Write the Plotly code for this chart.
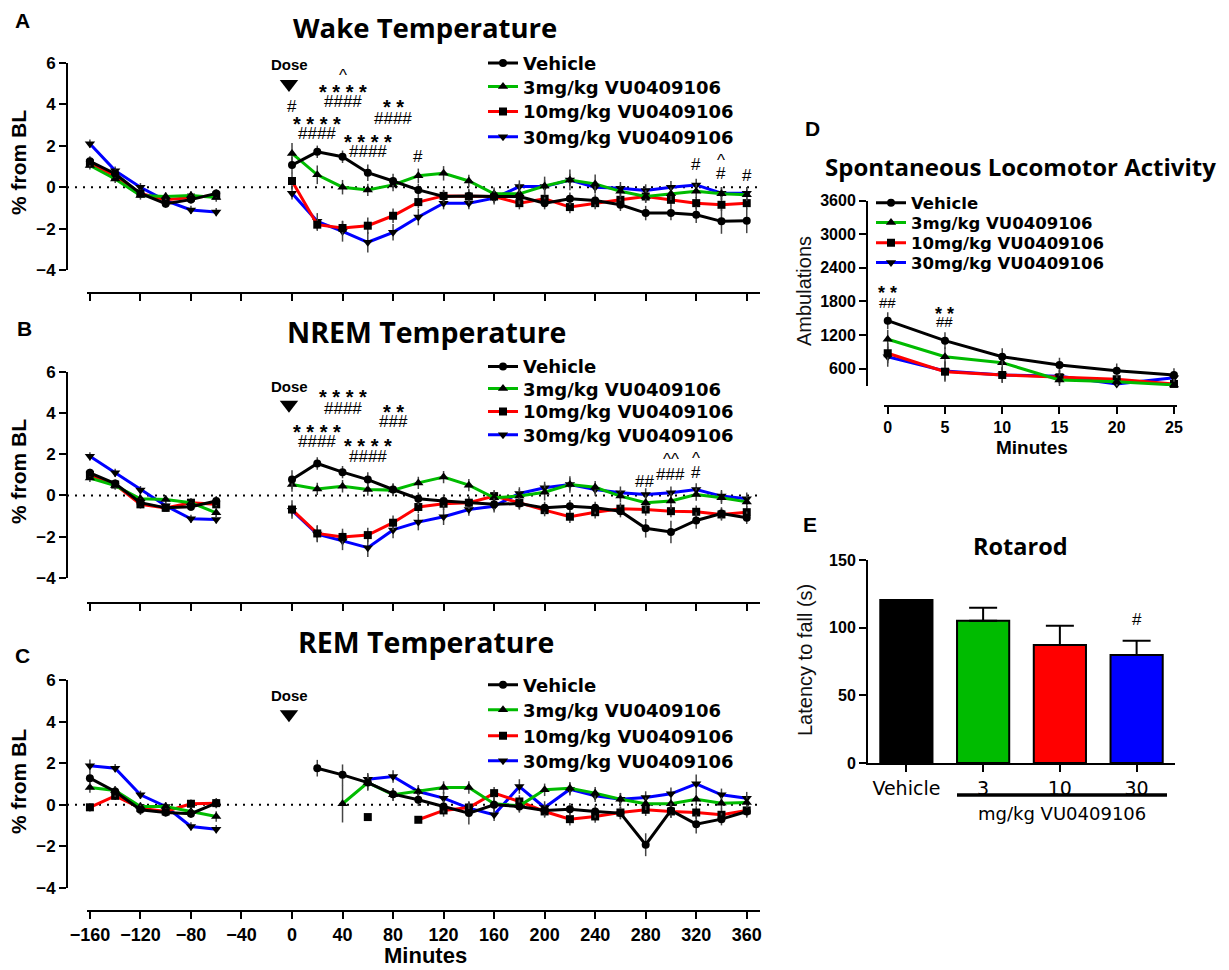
import plotly.graph_objects as go

# ---------------- data ----------------
minutes = [-160, -140, -120, -100, -80, -60, -40, -20, 0, 20, 40, 60, 80, 100, 120, 140,
           160, 180, 200, 220, 240, 260, 280, 300, 320, 340, 360]
series_names = ["Vehicle", "3mg/kg VU0409106", "10mg/kg VU0409106", "30mg/kg VU0409106"]

# Panel A - Wake temperature (% from BL)
veh_A = [1.25, 0.65, -0.30, -0.80, -0.60, -0.30, None, None, 1.07, 1.71, 1.47, 0.70, 0.30, -0.13, -0.45, -0.42,
         -0.45, -0.45, -0.77, -0.56, -0.64, -0.85, -1.25, -1.25, -1.33, -1.65, -1.62]
g3_A = [1.05, 0.40, -0.40, -0.45, -0.40, -0.50, None, None, 1.63, 0.60, 0.00, -0.13, 0.11, 0.55, 0.67, 0.30,
        -0.32, -0.32, 0.06, 0.35, 0.16, -0.20, -0.45, -0.32, -0.20, -0.32, -0.37]
g10_A = [1.15, 0.55, -0.30, -0.60, -0.50, -0.40, None, None, 0.30, -1.81, -1.97, -1.86, -1.38, -0.72, -0.42, -0.45,
         -0.45, -0.77, -0.56, -0.96, -0.77, -0.61, -0.45, -0.61, -0.77, -0.85, -0.77]
g30_A = [2.10, 0.80, 0.00, -0.65, -1.10, -1.20, None, None, -0.29, -1.65, -2.13, -2.66, -2.18, -1.44, -0.77, -0.77,
         -0.53, 0.03, 0.03, 0.35, 0.00, -0.05, -0.16, 0.00, 0.11, -0.29, -0.29]
veh_A_sem = [0.25, 0.20, 0.20, 0.20, 0.20, 0.20, None, None, 0.40, 0.30, 0.30, 0.40, 0.35, 0.30, 0.30, 0.35,
             0.30, 0.30, 0.30, 0.30, 0.30, 0.30, 0.35, 0.35, 0.40, 0.60, 0.60]
g3_A_sem = [0.20, 0.20, 0.20, 0.20, 0.20, 0.20, None, None, 0.50, 0.45, 0.35, 0.30, 0.30, 0.35, 0.35, 0.30,
            0.30, 0.50, 0.45, 0.50, 0.45, 0.30, 0.30, 0.30, 0.35, 0.30, 0.30]
g10_A_sem = [0.20, 0.20, 0.20, 0.20, 0.20, 0.20, None, None, 0.40, 0.30, 0.35, 0.40, 0.35, 0.30, 0.30, 0.30,
             0.30, 0.30, 0.30, 0.30, 0.30, 0.30, 0.30, 0.30, 0.30, 0.30, 0.30]
g30_A_sem = [0.20, 0.20, 0.20, 0.20, 0.20, 0.20, None, None, 0.30, 0.40, 0.50, 0.50, 0.40, 0.40, 0.30, 0.30,
             0.30, 0.30, 0.30, 0.30, 0.30, 0.30, 0.30, 0.30, 0.30, 0.30, 0.30]

# Panel B - NREM temperature
veh_B = [1.10, 0.58, -0.35, -0.60, -0.55, -0.27, None, None, 0.77, 1.55, 1.13, 0.77, 0.29, -0.16, -0.27, -0.35,
         -0.43, -0.39, -0.60, -0.52, -0.60, -0.76, -1.59, -1.77, -1.21, -0.87, -1.08]
g3_B = [0.85, 0.48, -0.16, -0.19, -0.35, -0.84, None, None, 0.53, 0.32, 0.45, 0.29, 0.26, 0.61, 0.89, 0.50,
        -0.11, -0.03, 0.16, 0.53, 0.40, -0.03, -0.35, -0.27, 0.05, -0.11, -0.31]
g10_B = [1.00, 0.53, -0.43, -0.60, -0.35, -0.43, None, None, -0.68, -1.84, -2.01, -1.92, -1.32, -0.56, -0.40, -0.35,
         -0.03, -0.35, -0.71, -1.03, -0.81, -0.64, -0.68, -0.76, -0.79, -0.92, -0.81]
g30_B = [1.90, 1.10, 0.26, -0.50, -1.13, -1.16, None, None, -0.72, -1.87, -2.20, -2.53, -1.67, -1.29, -1.03, -0.68,
         -0.52, 0.10, 0.37, 0.53, 0.29, 0.13, 0.05, 0.13, 0.29, -0.03, -0.16]
veh_B_sem = [0.20, 0.20, 0.20, 0.20, 0.20, 0.25, None, None, 0.45, 0.30, 0.30, 0.35, 0.30, 0.30, 0.30, 0.30,
             0.30, 0.30, 0.30, 0.30, 0.30, 0.30, 0.45, 0.55, 0.40, 0.30, 0.30]
g3_B_sem = [0.20, 0.20, 0.20, 0.20, 0.20, 0.25, None, None, 0.35, 0.30, 0.30, 0.30, 0.30, 0.30, 0.30, 0.30,
            0.30, 0.35, 0.40, 0.40, 0.30, 0.30, 0.40, 0.40, 0.30, 0.30, 0.30]
g10_B_sem = [0.20, 0.20, 0.20, 0.20, 0.20, 0.20, None, None, 0.45, 0.40, 0.40, 0.35, 0.35, 0.30, 0.30, 0.30,
             0.30, 0.30, 0.30, 0.30, 0.30, 0.30, 0.30, 0.30, 0.30, 0.30, 0.30]
g30_B_sem = [0.20, 0.20, 0.20, 0.20, 0.20, 0.20, None, None, 0.30, 0.40, 0.45, 0.45, 0.40, 0.40, 0.40, 0.30,
             0.30, 0.30, 0.30, 0.30, 0.30, 0.30, 0.30, 0.30, 0.30, 0.30, 0.30]

# Panel C - REM temperature
veh_C = [1.28, 0.64, -0.24, -0.37, -0.43, 0.08, None, None, None, 1.76, 1.44, 1.07, 0.51, 0.24, -0.08, -0.40,
         0.00, -0.08, -0.27, -0.21, -0.32, -0.40, -1.92, -0.27, -0.93, -0.69, -0.32]
g3_C = [0.83, 0.69, -0.08, -0.08, -0.32, -0.56, None, None, None, None, 0.05, 1.07, 0.48, 0.64, 0.83, 0.83,
        0.05, -0.05, 0.72, 0.80, 0.56, 0.27, 0.05, 0.05, 0.27, 0.08, 0.11]
g10_C = [-0.12, 0.43, -0.16, -0.32, 0.05, 0.08, None, None, None, None, None, -0.59, None, -0.72, -0.27, -0.13,
         0.56, 0.16, -0.32, -0.69, -0.56, -0.37, -0.24, -0.32, -0.37, -0.48, -0.27]
g30_C = [1.88, 1.76, 0.48, -0.08, -1.04, -1.17, None, None, None, None, None, 1.23, 1.36, 0.64, 0.32, -0.16,
         -0.48, 0.88, -0.13, 0.75, 0.43, 0.27, 0.35, 0.53, 1.01, 0.48, 0.32]
veh_C_sem = [0.30, 0.25, 0.25, 0.20, 0.20, 0.25, None, None, None, 0.40, 0.50, 0.40, 0.30, 0.30, 0.30, 0.55,
             0.40, 0.30, 0.30, 0.30, 0.30, 0.30, 0.55, 0.35, 0.45, 0.30, 0.30]
g3_C_sem = [0.25, 0.20, 0.20, 0.20, 0.20, 0.25, None, None, None, None, 0.90, 0.35, 0.30, 0.30, 0.30, 0.30,
            0.30, 0.30, 0.30, 0.30, 0.30, 0.30, 0.30, 0.30, 0.30, 0.30, 0.30]
g10_C_sem = [0.20, 0.20, 0.20, 0.20, 0.20, 0.20, None, None, None, None, None, 0.10, None, 0.10, 0.30, 0.30,
             0.30, 0.30, 0.30, 0.30, 0.30, 0.30, 0.30, 0.30, 0.30, 0.30, 0.30]
g30_C_sem = [0.30, 0.20, 0.20, 0.20, 0.20, 0.20, None, None, None, None, None, 0.30, 0.30, 0.30, 0.30, 0.30,
             0.30, 0.35, 0.30, 0.30, 0.30, 0.30, 0.30, 0.30, 0.45, 0.30, 0.30]

# Panel D - Spontaneous locomotor activity
loco_minutes = [0, 5, 10, 15, 20, 25]
veh_D = [1457, 1100, 814, 666, 564, 487]
g3_D = [1125, 814, 707, 398, 368, 309]
g10_D = [875, 546, 487, 446, 411, 327]
g30_D = [814, 559, 487, 464, 327, 439]
veh_D_sem = [150, 150, 150, 130, 130, 120]
g3_D_sem = [170, 170, 140, 120, 120, 120]
g10_D_sem = [180, 180, 140, 120, 120, 120]
g30_D_sem = [180, 170, 140, 120, 120, 120]

# Panel E - Rotarod
rotarod_groups = ["Vehicle", "3", "10", "30"]
rotarod_latency = [120.5, 105.2, 87.2, 79.8]
rotarod_sem = [0.0, 9.6, 14.3, 10.6]

# significance labels (x minutes, y value, text)
sig_A = [(0, 3.88, "#"), (20, 3.24, "****"), (20, 2.61, "####"), (40, 5.41, "^"), (40, 4.78, "****"),
         (40, 4.12, "####"), (60, 2.37, "****"), (60, 1.71, "####"), (80, 4.06, "**"), (80, 3.33, "####"),
         (100, 1.50, "#"), (320, 1.11, "#"), (340, 1.30, "^"), (340, 0.68, "#"), (360, 0.58, "#")]
sig_B = [(20, 3.27, "****"), (20, 2.62, "####"), (40, 4.96, "****"), (40, 4.24, "####"),
         (60, 2.57, "****"), (60, 1.90, "####"), (80, 4.24, "**"), (80, 3.59, "###"),
         (279, 0.69, "##"), (300, 1.74, "^^"), (300, 1.01, "###"), (320, 1.77, "^"), (320, 1.10, "#")]
sig_D = [(0, 2023, "**"), (0, 1779, "##"), (5, 1648, "**"), (5, 1434, "##")]
sig_E = [(3, 106.4, "#")]

# ---------------- styling ----------------
# the page body has an 8px margin, so the figure is drawn 8px smaller and coordinates are offset
OFF = 8
FW, FH = 1229 - OFF, 970 - OFF
def P(x):
    return (x - OFF) / FW
def Q(y):
    return 1 - (y - OFF) / FH

LS = "Liberation Sans, Arial, sans-serif"
DJ = "DejaVu Sans, sans-serif"
OS = "Open Sans, Liberation Sans, sans-serif"
colors = ["#000000", "#00BB00", "#FF0000", "#0000FF"]
symbols = ["circle", "triangle-up", "square", "triangle-down"]
msizes = [8, 9, 8, 9]

fig = go.Figure()
layout = dict(width=FW, height=FH, margin=dict(l=0, r=0, t=0, b=0, autoexpand=False),
              paper_bgcolor="white", plot_bgcolor="white", showlegend=True)

legend_count = [0]
def new_legend(x, yc, size):
    legend_count[0] += 1
    n = legend_count[0]
    key = "legend" if n == 1 else "legend%d" % n
    layout[key] = dict(x=P(x), y=Q(yc), xanchor="left", yanchor="middle", bgcolor="rgba(0,0,0,0)",
                       borderwidth=0, itemwidth=30,
                       font=dict(family=DJ, size=size, color="black", weight="bold"))
    return key

panels = [
    ("x", "y", [veh_A, g3_A, g10_A, g30_A], [veh_A_sem, g3_A_sem, g10_A_sem, g30_A_sem],
     [63.3, 86.9, 111.7, 137.0]),
    ("x2", "y2", [veh_B, g3_B, g10_B, g30_B], [veh_B_sem, g3_B_sem, g10_B_sem, g30_B_sem],
     [366.7, 388.9, 411.7, 435.0]),
    ("x3", "y3", [veh_C, g3_C, g10_C, g30_C], [veh_C_sem, g3_C_sem, g10_C_sem, g30_C_sem],
     [685.0, 710.0, 736.0, 761.0]),
]

for xa, ya, vals, sems, rows_y in panels:
    keys = [new_legend(483, rows_y[i], 18) for i in range(4)]
    for i in [3, 2, 1, 0]:
        fig.add_trace(go.Scatter(
            x=minutes, y=vals[i], xaxis=xa, yaxis=ya, legend=keys[i], name=series_names[i],
            mode="lines+markers", connectgaps=False, cliponaxis=False,
            line=dict(color=colors[i], width=3),
            marker=dict(color="black", symbol=symbols[i], size=msizes[i]),
            error_y=dict(type="data", array=sems[i], color="#444444", thickness=1.5, width=0),
        ))

d_rows = [203.0, 222.7, 243.0, 262.7]
d_keys = [new_legend(871, d_rows[i], 16.5) for i in range(4)]
for i in [3, 2, 1, 0]:
    fig.add_trace(go.Scatter(
        x=loco_minutes, y=[veh_D, g3_D, g10_D, g30_D][i], xaxis="x4", yaxis="y4", legend=d_keys[i],
        name=series_names[i], mode="lines+markers", cliponaxis=False,
        line=dict(color=colors[i], width=3),
        marker=dict(color="black", symbol=symbols[i], size=msizes[i]),
        error_y=dict(type="data", array=[veh_D_sem, g3_D_sem, g10_D_sem, g30_D_sem][i],
                     color="#444444", thickness=1.5, width=0),
    ))

fig.add_trace(go.Bar(
    x=rotarod_groups, y=rotarod_latency, xaxis="x5", yaxis="y5", showlegend=False, width=0.68,
    marker=dict(color=colors, line=dict(color="black", width=2)),
    error_y=dict(type="data", symmetric=False, array=rotarod_sem, arrayminus=[0] * 4,
                 color="black", thickness=2, width=14),
))

# dose markers
dose_pos = [("x", "y", 4.98, 5.92), ("x2", "y2", 4.40, 5.27), ("x3", "y3", 4.35, 5.24)]
for xa, ya, ytri, ytxt in dose_pos:
    fig.add_trace(go.Scatter(x=[-2.4], y=[ytri], xaxis=xa, yaxis=ya, mode="markers", showlegend=False,
                             cliponaxis=False,
                             marker=dict(symbol="triangle-down", size=16, color="black")))

axis_common = dict(showline=True, linecolor="black", linewidth=2, ticks="outside", ticklen=7,
                   tickwidth=2, tickcolor="black", showgrid=False, zeroline=False)
ytick_font = dict(family=LS, size=17, color="black", weight="bold")

rows = [(63, 270, 293), (371.7, 578, 603), (680, 888, 911)]
for k, (ytop, ybot, xline) in enumerate(rows):
    sfx = "" if k == 0 else str(k + 1)
    layout["xaxis" + sfx] = dict(axis_common, domain=[P(87), P(760)], range=[-162.3, 370.5],
                                 anchor="free", position=Q(xline),
                                 tickvals=list(range(-160, 361, 40)), showticklabels=(k == 2),
                                 tickfont=dict(family=LS, size=18, color="black", weight="bold"))
    layout["yaxis" + sfx] = dict(axis_common, domain=[Q(ybot), Q(ytop)], range=[-4, 6],
                                 anchor="free", position=P(67), tickvals=[-4, -2, 0, 2, 4, 6],
                                 tickfont=ytick_font)

layout["xaxis4"] = dict(axis_common, domain=[P(884.3), P(1177.4)], range=[-0.3, 25.3], anchor="free",
                        position=Q(406), tickvals=loco_minutes,
                        tickfont=dict(family=LS, size=16, color="black", weight="bold"))
layout["yaxis4"] = dict(axis_common, domain=[Q(386), Q(200.7)], range=[290, 3600], anchor="free",
                        position=P(867), tickvals=[600, 1200, 1800, 2400, 3000, 3600],
                        tickfont=dict(family=LS, size=16, color="black", weight="bold"))
layout["xaxis5"] = dict(axis_common, domain=[P(868), P(1175)], range=[-0.5, 3.5], anchor="y5",
                        type="category", tickfont=dict(family=DJ, size=19, color="black"))
layout["yaxis5"] = dict(axis_common, domain=[Q(763), Q(560)], range=[0, 150], anchor="x5",
                        tickvals=[0, 50, 100, 150],
                        tickfont=dict(family=LS, size=16, color="black", weight="bold"))

shapes = []
for ya in ["y", "y2", "y3"]:
    shapes.append(dict(type="line", xref="paper", yref=ya, x0=P(67), x1=P(760), y0=0, y1=0,
                       line=dict(color="black", width=2, dash="2px,6px"), layer="below"))
shapes.append(dict(type="line", xref="paper", yref="paper", x0=P(957), x1=P(1167), y0=Q(795), y1=Q(795),
                   line=dict(color="black", width=3.5)))
layout["shapes"] = shapes

ann = []
def text(x, y, s, size, family=LS, bold=True, angle=0, color="black"):
    ann.append(dict(x=P(x), y=Q(y), xref="paper", yref="paper", text=s, showarrow=False,
                    xanchor="center", yanchor="middle", textangle=angle,
                    font=dict(family=family, size=size, color=color, weight="bold" if bold else "normal")))

# panel letters
for lx, ly, s in [(23, 20, "A"), (24, 328, "B"), (23, 655, "C"), (812, 128, "D"), (810, 524, "E")]:
    text(lx, ly, s, 21)
# titles
text(425, 27, "Wake Temperature", 27.5, OS)
text(426, 332, "NREM Temperature", 28.5, OS)
text(426, 642, "REM Temperature", 28.5, OS)
text(1020, 166, "Spontaneous Locomotor Activity", 24, OS)
text(1020, 546, "Rotarod", 23.5, OS)
# axis titles
for yc in [163, 472, 782]:
    text(18, yc, "% from BL", 21, angle=-90)
text(425, 955, "Minutes", 22)
text(804, 291, "Ambulations", 20, bold=False, angle=-90, color="#111111")
text(1032, 447, "Minutes", 19)
text(805, 660, "Latency to fall (s)", 20, bold=False, angle=-90, color="#111111")
text(1062, 813, "mg/kg VU0409106", 18, DJ, bold=False)

for xa, ya, ytri, ytxt in dose_pos:
    ann.append(dict(x=-1.6, y=ytxt, xref=xa, yref=ya, text="Dose", showarrow=False,
                    font=dict(family=LS, size=15, color="black", weight="bold")))

def sig(items, xa, ya, star_size=20, hash_size=17):
    for sx, sy, s in items:
        if "*" in s:
            shown = " ".join(s)
            ann.append(dict(x=sx, y=sy, xref=xa, yref=ya, text=shown, showarrow=False, yshift=-4,
                            font=dict(family=LS, size=star_size, color="black", weight="bold")))
        else:
            ann.append(dict(x=sx, y=sy, xref=xa, yref=ya, text=s, showarrow=False,
                            font=dict(family=LS, size=hash_size, color="black")))
sig(sig_A, "x", "y")
sig(sig_B, "x2", "y2")
sig(sig_D, "x4", "y4", star_size=18, hash_size=15)
sig(sig_E, "x5", "y5")
layout["annotations"] = ann

fig.update_layout(**layout)
fig.write_html("out.html")
